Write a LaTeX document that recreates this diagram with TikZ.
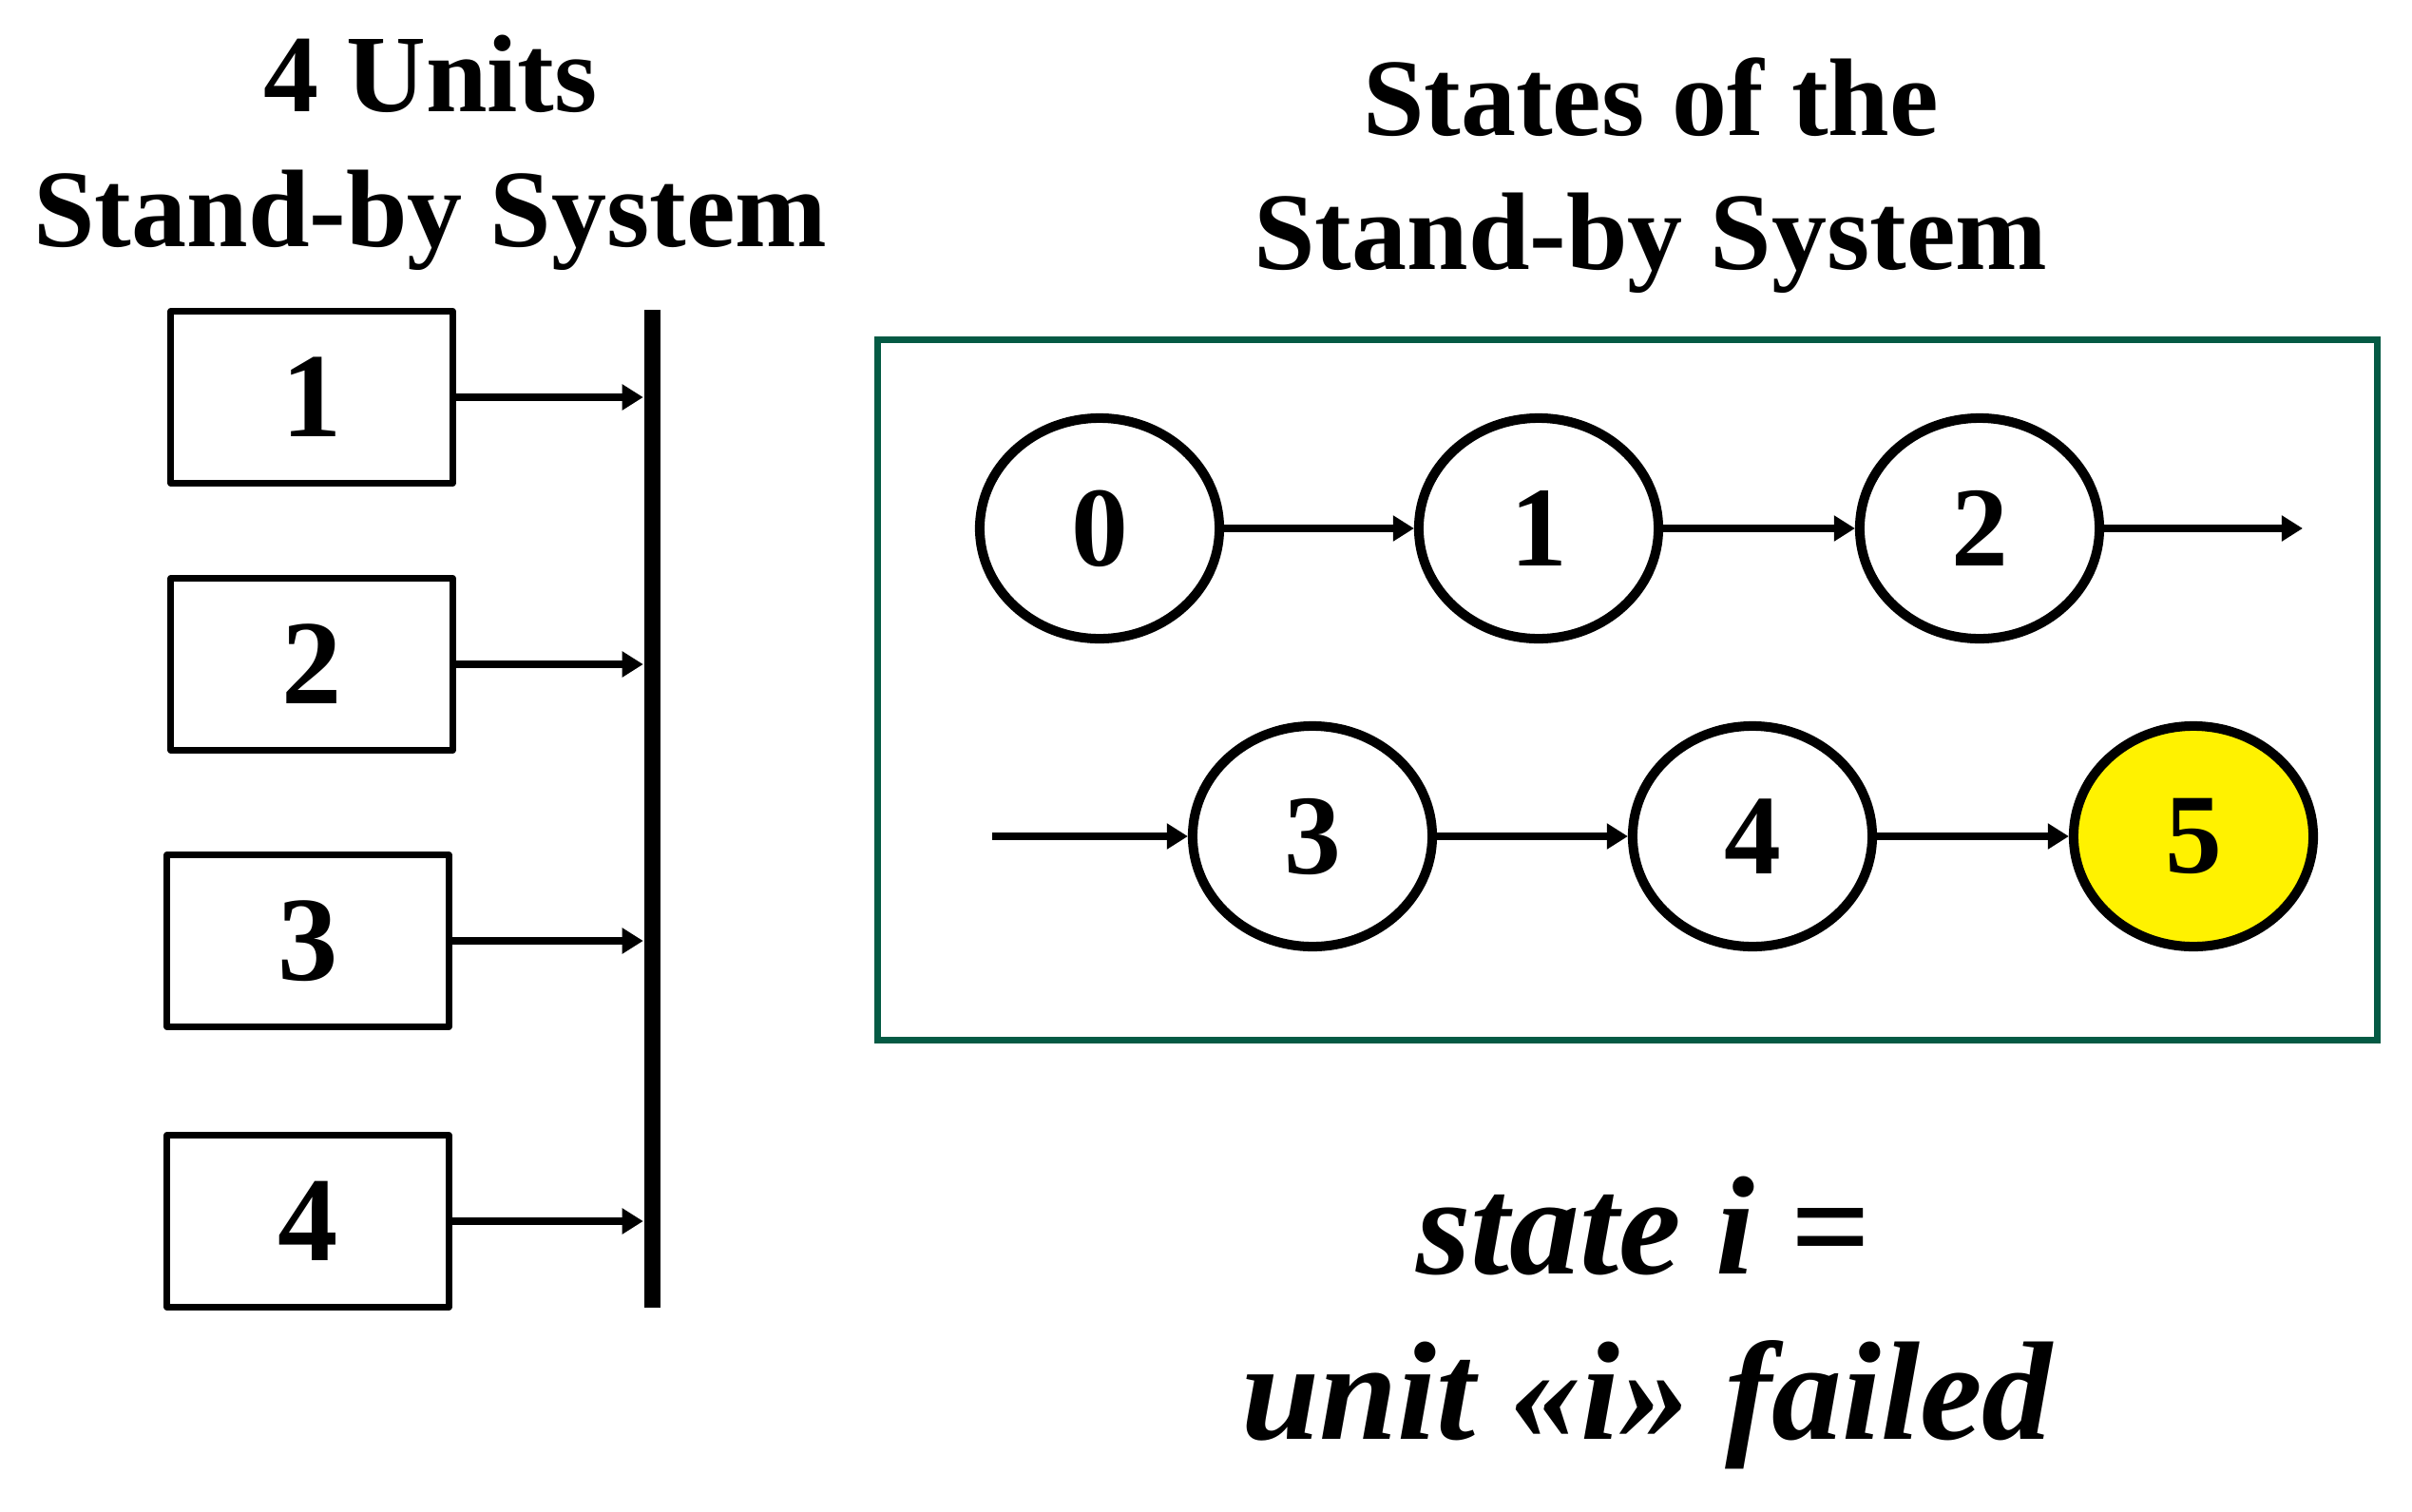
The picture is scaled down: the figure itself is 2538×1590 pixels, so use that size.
\documentclass[tikz,border=0pt]{standalone}
\usepackage{fontspec}
\setmainfont{Liberation Serif}
\usetikzlibrary{
  arrows.meta,
  shapes.geometric
}
\definecolor{framegreen}{RGB}{4,90,68}
\tikzset{
  sys/unit/.style={
    draw, line width=2pt, line join=round,
    minimum width=2.96cm, minimum height=1.81cm, inner sep=0pt,
    font=\fontsize{36}{40}\selectfont\bfseries
  },
  sys/state/.style={
    ellipse, draw, line width=2.85pt,
    minimum width=2.52cm, minimum height=2.32cm, inner sep=0pt,
    font=\fontsize{34}{40}\selectfont\bfseries
  },
  sys/link/.style={
    line width=2.5pt,
    -{Triangle[length=6.3pt, width=7.4pt]}
  },
  sys/title/.style={
    anchor=base, inner sep=0pt,
    font=\fontsize{33}{40}\selectfont\bfseries
  },
  sys/note/.style={
    anchor=base, inner sep=0pt,
    font=\fontsize{42}{50}\selectfont\bfseries\itshape
  }
}
\begin{document}
\begin{tikzpicture}[x=0.01cm, y=-0.01cm]
\useasboundingbox (0,0) rectangle (2538,1590);
% left: the units and the switch bar
\node[sys/title] (unitstitle a) at (453,117) {4 Units};
\node[sys/title] (unitstitle b) at (453,259) {Stand-by System};
\node[fill, minimum width=0.17cm, minimum height=10.49cm, inner sep=0pt] (bus) at (686,851) {};
\foreach \i/\x/\y in {1/328/418, 2/328/699, 3/324/990, 4/324/1285} {
  \node[sys/unit] (unit\i) at (\x,\y) {\i};
  \draw[sys/link] (unit\i.east) -- (unit\i.east -| bus.west);
}
% right: the chain of states
\node[sys/title] (statestitle a) at (1737,142) {States of the};
\node[sys/title] (statestitle b) at (1737,283) {Stand-by System};
\node[draw=framegreen, line width=2pt, minimum width=15.77cm, minimum height=7.36cm, inner sep=0pt] (frame) at (1712.5,726) {};
\foreach \i/\x/\y in {0/1157/556, 1/1619/556, 2/2083/556, 3/1381/880, 4/1844/880} {
  \node[sys/state] (state\i) at (\x,\y) {\i};
}
\node[sys/state, fill=yellow] (state5) at (2308,880) {5};
\coordinate (chainout) at (2423,556);
\coordinate (chainin) at (1044,880);
\draw[sys/link] (state0) -- (state1);
\draw[sys/link] (state1) -- (state2);
\draw[sys/link] (state2) -- (chainout);
\draw[sys/link] (chainin) -- (state3);
\draw[sys/link] (state3) -- (state4);
\draw[sys/link] (state4) -- (state5);
% meaning of a state
\node[sys/note] (note a) at (1729,1340) {state i =};
\node[sys/note] (note b) at (1733,1514) {unit «i» failed};
\end{tikzpicture}
\end{document}
